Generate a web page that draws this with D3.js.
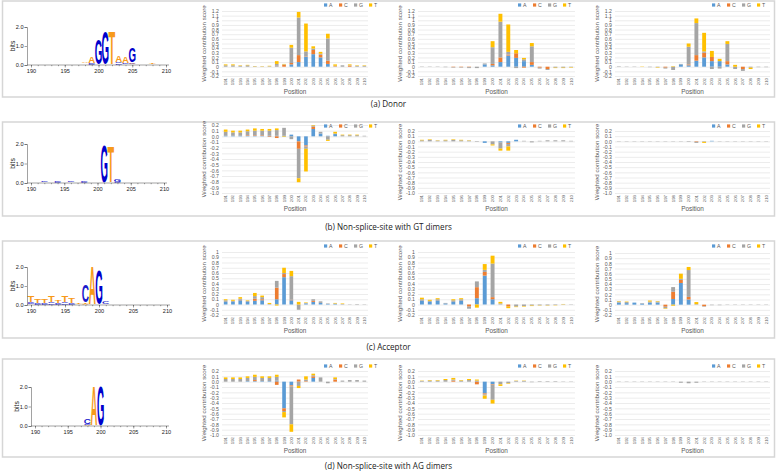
<!DOCTYPE html>
<html>
<head>
<meta charset="utf-8">
<script src="https://cdn.jsdelivr.net/npm/d3@7"></script>
<style>
body { margin: 0; background: #fff; }
svg { display: block; }
.caption { font-family: "Open Sans", sans-serif; font-size: 8.1px; fill: #222; }
.xl text { font-family: "Liberation Sans", Arial, sans-serif; fill: #595959; }
.logo text { font-family: "Liberation Sans", Arial, sans-serif; fill: #222; }
</style>
</head>
<body>
<div id="chart"></div>
<script>
var bases = ["A", "C", "G", "T"];
var barColors = {A: "#5b9bd5", C: "#ed7d31", G: "#a5a5a5", T: "#ffc000"};
var logoColors = {A: "#f79a1b", C: "#1a1acc", G: "#0000cc", T: "#f79a1b"};

var positions = [191,192,193,194,195,196,197,198,199,200,201,202,203,204,205,206,207,208,209,210];
var logoPositions = [190,191,192,193,194,195,196,197,198,199,200,201,202,203,204,205,206,207,208,209,210];
var logoTicks = [190, 195, 200, 205, 210];
var bitTicks = [0, 1, 2];

var captions = ["(a) Donor", "(b) Non-splice-site with GT dimers", "(c) Acceptor", "(d) Non-splice-site with AG dimers"];

var ticksDonor = ["1.2","1.1","1","0.9","0.8","0.7","0.6","0.5","0.4","0.3","0.2","0.1","0","-0.1","-0.2"];
var ticksGT = ["0.2","0.1","0.0","-0.1","-0.2","-0.3","-0.4","-0.5","-0.6","-0.7","-0.8","-0.9","-1.0"];
var ticksAcc = ["1","0.9","0.8","0.7","0.6","0.5","0.4","0.3","0.2","0.1","0","-0.1","-0.2"];
var ticksAG = ["0.2","0.1","0.0","-0.1","-0.2","-0.3","-0.4","-0.5","-0.6","-0.7","-0.8","-0.9","-1.0"];

// weighted contribution score per position 191..210, as [A, C, G, T]
var donorModel1 = [[0,0,0.03,0.02],[0,0,0.03,0.02],[0,0,0.02,0.01],[0,0,0.03,0.01],[0,0,0.01,0.005],
  [0,0,0.005,0.005],[0,0,0.01,0.01],[0.01,0.01,0.04,0.06],[0,0.04,0.01,0.01],[0.05,0.03,0.33,0.06],
  [0.10,0.15,0.81,0.12],[0.21,0.01,0.11,0.60],[0.27,0.09,0.03,0.05],[0.20,0.06,0.02,0.04],[0.06,0.07,0.48,0.10],
  [0,0.01,0.01,0.03],[0,0,0.03,0],[0,0.02,0.01,0.02],[0,0,0.02,0.01],[0,0,0.02,0.01]];
var donorModel2 = [[0,0,0.005,0],[0,0,0.005,0],[0,0,0.005,0],[0,0,-0.01,0],[0,-0.01,-0.01,0],
  [0,-0.01,-0.01,0],[0,-0.01,-0.02,0],[0,0,-0.03,0],[0.05,0,0.02,0],[0.03,0.03,0.36,0.13],
  [0.10,0.10,0.77,0.17],[0.24,0.02,0.06,0.59],[0.19,0.10,-0.03,0.07],[0.12,-0.02,0.04,0.03],[0.04,0.06,0.34,0.07],
  [0,-0.02,-0.02,0],[0,-0.05,-0.02,0],[0,0,-0.02,-0.01],[0,0,-0.02,-0.01],[0,0,-0.01,-0.01]];
var donorModel3 = [[0,0,0.01,0],[0,0,-0.005,0],[0,0,-0.005,0],[0,0,0,0.005],[0,0,-0.01,0],
  [0,0,-0.01,-0.01],[0,-0.02,-0.02,0],[0,0,-0.07,0.01],[0.05,0,0.01,0],[0.03,0.02,0.38,0.07],
  [0.13,0.12,0.69,0.10],[0.20,0.10,0.03,0.40],[0.12,0.09,-0.05,0.13],[0.12,0,-0.04,0.05],[0.05,0.07,0.37,0.06],
  [0,0,-0.05,0.04],[0,-0.05,-0.04,0],[0,0,-0.02,-0.03],[0,0,-0.01,0],[0,0,-0.01,0]];

var gtModel1 = [[0.01,0,0.07,0.04],[0.01,0,0.06,0.03],[0.01,0,0.06,0.03],[0.01,0.01,0.07,0.03],[0.01,0.01,0.08,0.04],
  [0.01,0.01,0.08,0.03],[0.01,-0.01,0.09,0.03],[0.01,-0.03,0.10,0.03],[0.01,0,0.14,-0.01],[0.03,0,-0.05,0],
  [-0.09,-0.13,-0.52,-0.07],[-0.16,-0.02,-0.04,-0.40],[0.13,0.04,0.02,0.01],[0.05,0,0.03,0],[0.01,0,-0.06,-0.02],
  [0.04,0,0.01,0.03],[0,0,0.02,0.01],[0,0,0.02,0.01],[0,0,0.02,0.01],[0,0,0.01,0]];
var gtModel2 = [[0,0,0.02,0.01],[0,0,0.03,0.01],[0,0,0.015,0.005],[0,0,0.02,0.01],[0,0,0.03,0.01],
  [0,0,0.02,0.01],[0,0,0.015,0.005],[0,0,-0.01,0],[-0.03,0,0,0],[0,0,-0.06,-0.02],
  [-0.02,0,-0.12,-0.04],[-0.03,-0.02,-0.05,-0.08],[0.03,0,0,0],[0,0,0.01,0],[0,0,-0.02,0],
  [0,0,0.01,0],[0,0,0.02,0],[0,0,0.02,0],[0,0,0.02,0],[0,0,0.01,0]];
var gtModel3 = [[0,0,0.003,0],[0,0,0.003,0],[0,0,0.003,0],[0,0,0.003,0],[0,0,0.003,0],
  [0,0,0.003,0],[0,0,0.003,0],[0,0,0.003,0],[0,0,-0.003,0],[0,0,-0.01,0],
  [0,-0.01,-0.02,0],[0,0,-0.01,-0.02],[0.01,0,0,0],[0,0,0.003,0],[0,0,0.003,0],
  [0,0,0.003,0],[0,0,0.003,0],[0,0,0.003,0],[0,0,0.003,0],[0,0,0.003,0]];

var accModel1 = [[0.05,0,0.03,0.02],[0.05,0,0.02,0.02],[0.08,0.01,0.02,0.03],[0.05,0,0.02,0.01],[0.07,0.04,0.05,0.06],
  [0.08,0.02,0.04,0.03],[0,0,0.01,0.02],[0.10,0.22,0.13,-0.02],[0.52,0.06,0.02,0.10],[0.08,0.01,0.45,0.10],
  [0,0,-0.10,0.05],[0.02,0,0.01,0.01],[0.05,0.02,0.03,0],[0.03,0,0.03,0],[0.01,0,0.01,0],
  [0.01,0,0.01,0.01],[0,0,0.01,0.01],[0,0,0.005,0],[0,0,-0.01,0],[0,0,-0.005,0]];
var accModel2 = [[0.07,0,0.03,0.03],[0.05,0,0.02,0.02],[0.07,0,0.03,0.02],[0.02,0,0.01,0],[0.05,0,0.03,0.02],
  [0.07,0,0.03,0.02],[0,-0.04,-0.04,0],[0.12,0.21,0.11,-0.06],[0.55,0.07,0.04,0.11],[0.10,0.04,0.64,0.15],
  [0,0,0.02,0.03],[0,-0.04,0,-0.03],[0,0,-0.04,-0.01],[0,0,-0.03,-0.01],[0,0,-0.02,-0.01],
  [0,0,-0.015,-0.005],[0,0,-0.015,-0.005],[0,0,-0.01,-0.005],[0,0,0.005,0.005],[0,0,0.005,0]];
var accModel3 = [[0.04,0,0.02,0.01],[0.03,0,0.02,0.01],[0.04,0,0,0],[0.02,0,0.01,0],[0.04,0,0.02,0.02],
  [0.04,0,0.02,0.01],[0,-0.04,-0.03,-0.01],[0.11,0.14,0.09,-0.02],[0.42,0.06,0.02,0.10],[0.10,0.05,0.52,0.06],
  [0,0,0.01,0.04],[0,-0.03,-0.01,0],[0,0,-0.01,0],[0,0,-0.01,0],[0,0,0.004,0],
  [0,0,0.004,0],[0,0,0.004,0],[0,0,0.004,0],[0,0,0.004,0],[0,0,0.004,0]];

var agModel1 = [[0,0,0.05,0.03],[0,0,0.05,0.03],[0,0,0.05,0.03],[0.01,0,0.06,0.03],[0.01,0.02,0.06,0.04],
  [0.01,0,0.06,0.03],[0.01,0,0.06,0.03],[0.02,-0.06,0.07,0.04],[-0.50,-0.05,-0.02,-0.10],[-0.07,-0.02,-0.71,-0.14],
  [0,0.04,-0.08,-0.04],[0,0.01,0.03,0.06],[0.07,0.03,0.02,0.03],[0,0,0.08,0],[0,0,-0.03,0],
  [0,0.04,0.01,0.03],[0,0,0.02,0],[0,0,0.03,0],[0,0,0.03,0],[0,0,0.02,0]];
var agModel2 = [[0,0,0.015,0.005],[0,0,0.02,0.01],[0,0,0.02,0.01],[0,0,0.03,0.02],[0,0.02,0.02,0.03],
  [0,0,0.02,0.01],[0,0,0.03,0.02],[0,-0.05,0.02,0.02],[-0.22,-0.02,-0.02,-0.06],[-0.05,-0.01,-0.28,-0.07],
  [0,0,-0.05,-0.03],[0,0,-0.03,-0.01],[0,0,0.015,0.005],[0,0,0.015,0.005],[0,0,-0.01,0],
  [0,0,0.01,0],[0,0,0.01,0],[0,0,0.01,0],[0,0,0.005,0],[0,0,0.005,0]];
var agModel3 = [[0,0,0.003,0],[0,0,0.003,0],[0,0,0.003,0],[0,0,0.003,0],[0,0,0.003,0],
  [0,0,0.003,0],[0,0,0.003,0],[0,0,0.003,0],[0,0,-0.02,0],[0,0,-0.03,0],
  [0,0,-0.02,0],[0,0,0.003,0],[0,0,0.003,0],[0,0,0.003,0],[0,0,0.003,0],
  [0,0,0.003,0],[0,0,0.003,0],[0,0,0.003,0],[0,0,0.003,0],[0,0,0.003,0]];

// sequence logo heights (bits) per position 190..210, as [A, C, G, T]
var donorLogo = [[0.01,0.01,0.01,0.01],[0.01,0.01,0.01,0.01],[0.01,0.01,0.01,0.01],[0.01,0.01,0.01,0.01],[0.01,0.01,0.01,0.01],
  [0.01,0.01,0.01,0.01],[0.01,0.01,0.01,0.01],[0.01,0.01,0.01,0.01],[0.05,0.03,0.03,0.03],[0.30,0.04,0.06,0.02],
  [0.02,0.01,1.30,0.01],[0.02,0.01,1.75,0.01],[0.02,0.01,0.02,1.68],[0.30,0.08,0.07,0.02],[0.30,0.03,0.08,0.02],
  [0.06,0.04,0.75,0.03],[0.02,0.01,0.01,0.02],[0.01,0.01,0.01,0.01],[0.02,0.01,0.01,0.06],[0.01,0.01,0.01,0.01],[0.01,0.01,0.01,0.01]];
var gtLogo = [[0.01,0.01,0.01,0.01],[0.01,0.01,0.02,0.01],[0.01,0.03,0.04,0.01],[0.01,0.01,0.01,0.01],[0.01,0.04,0.05,0.01],
  [0.01,0.01,0.01,0.01],[0.01,0.03,0.04,0.01],[0.01,0.01,0.01,0.01],[0.01,0.04,0.04,0.01],[0.01,0.01,0.01,0.01],
  [0.01,0.01,0.01,0.01],[0.01,0.01,1.86,0.01],[0.01,0.01,0.01,1.82],[0.01,0.05,0.10,0.01],[0.01,0.01,0.01,0.01],
  [0.01,0.01,0.01,0.01],[0.01,0.01,0.01,0.01],[0.01,0.03,0.03,0.01],[0.01,0.01,0.01,0.01],[0.01,0.01,0.01,0.01],[0.01,0.01,0.01,0.01]];
var accLogo = [[0.03,0.08,0.05,0.35],[0.02,0.06,0.04,0.22],[0.02,0.06,0.04,0.20],[0.02,0.08,0.06,0.35],[0.02,0.05,0.04,0.15],
  [0.02,0.08,0.06,0.35],[0.02,0.06,0.05,0.25],[0.01,0.03,0.01,0.05],[0.05,0.90,0.02,0.05],[1.95,0.01,0.01,0.01],
  [0.01,0.01,1.80,0.01],[0.02,0.15,0.03,0.01],[0.01,0.01,0.01,0.01],[0.01,0.01,0.01,0.01],[0.01,0.01,0.01,0.01],
  [0.01,0.01,0.01,0.01],[0.01,0.01,0.01,0.01],[0.01,0.02,0.02,0.01],[0.01,0.01,0.01,0.01],[0.01,0.03,0.02,0.01],[0.01,0.01,0.01,0.01]];
var agLogo = [[0.01,0.01,0.01,0.01],[0.01,0.01,0.01,0.01],[0.01,0.01,0.01,0.01],[0.01,0.01,0.01,0.01],[0.01,0.01,0.01,0.01],
  [0.01,0.03,0.02,0.01],[0.01,0.01,0.01,0.01],[0.01,0.02,0.02,0.01],[0.04,0.25,0.04,0.02],[2.00,0.01,0.01,0.01],
  [0.01,0.01,2.00,0.01],[0.01,0.03,0.03,0.01],[0.01,0.01,0.01,0.01],[0.01,0.01,0.01,0.01],[0.01,0.03,0.02,0.01],
  [0.01,0.01,0.01,0.01],[0.01,0.01,0.01,0.01],[0.01,0.01,0.01,0.01],[0.01,0.01,0.01,0.01],[0.01,0.02,0.03,0.01],[0.01,0.01,0.01,0.01]];

var rowsData = [
  {logo: donorLogo, models: [donorModel1, donorModel2, donorModel3], ticks: ticksDonor},
  {logo: gtLogo, models: [gtModel1, gtModel2, gtModel3], ticks: ticksGT},
  {logo: accLogo, models: [accModel1, accModel2, accModel3], ticks: ticksAcc},
  {logo: agLogo, models: [agModel1, agModel2, agModel3], ticks: ticksAG}
];

// layout
var width = 777, height = 473;
var rowLayouts = [
  {box: [1, 97], capY: 107, logo: {x190: 31, x210: 166, y0: 65, y2: 27}, plotTop: [11, 11, 11], plotBottom: 76, legendY: 5},
  {box: [122, 216], capY: 230, logo: {x190: 31, x210: 164, y0: 183, y2: 144}, plotTop: [125, 131, 131], plotBottom: 193, legendY: 126},
  {box: [241, 338], capY: 350, logo: {x190: 31, x210: 167, y0: 305, y2: 267}, plotTop: [252, 252, 253], plotBottom: 315, legendY: 246},
  {box: [359, 457], capY: 469, logo: {x190: 35, x210: 166, y0: 426, y2: 387}, plotTop: [371, 371, 371], plotBottom: 435, legendY: 366}
];
var chartPanels = [
  {P: 195, plot: [222, 368]},
  {P: 389, plot: [418, 575]},
  {P: 583, plot: [615, 770]}
];

var svg = d3.select("#chart").append("svg")
  .attr("width", width)
  .attr("height", height);

// glyph metrics for logo letters
var ctx = document.createElement("canvas").getContext("2d");
ctx.font = "bold 100px 'Liberation Sans'";
var glyph = {};
bases.forEach(function(b){
  var m = ctx.measureText(b);
  glyph[b] = {l: m.actualBoundingBoxLeft, r: m.actualBoundingBoxRight, a: m.actualBoundingBoxAscent, d: m.actualBoundingBoxDescent};
});

function drawLogo(g, L, data){
  var x = d3.scaleLinear().domain([190, 210]).range([L.x190, L.x210]);
  var y = d3.scaleLinear().domain([0, 2]).range([L.y0, L.y2]);
  var step = x(191) - x(190);
  var axisX = L.x190 - 4;

  // letters, smallest at the bottom of each stack
  logoPositions.forEach(function(p, i){
    var stack = bases.map(function(b, j){ return {b: b, h: data[i][j]}; })
      .sort(function(a, b){ return a.h - b.h; });
    var acc = 0;
    var lw = step * 0.98;
    stack.forEach(function(s){
      var yb = y(acc), yt = y(acc + s.h);
      acc += s.h;
      var h = yb - yt;
      if(h < 0.6) return;
      var gm = glyph[s.b];
      var gw = gm.l + gm.r, gh = gm.a + gm.d;
      g.append("text")
        .text(s.b)
        .attr("font-family", "Liberation Sans, Arial, sans-serif")
        .attr("font-weight", "bold")
        .attr("font-size", 100)
        .attr("fill", logoColors[s.b])
        .attr("transform", "translate(" + (x(p) - lw/2) + "," + yb + ") scale(" + (lw/gw) + "," + (h/gh) + ") translate(" + gm.l + "," + (-gm.d) + ")");
    });
  });

  var gl = g.append("g").attr("class", "logo");
  var yAxis = d3.axisLeft(y).tickValues(bitTicks).tickFormat(d3.format(".1f")).tickSize(2.5).tickPadding(1);
  gl.append("g").attr("transform", "translate(" + axisX + ",0)").call(yAxis);
  var xAxis = d3.axisBottom(x).tickValues(logoTicks).tickFormat(d3.format("d")).tickSize(2.5).tickPadding(1.5).tickSizeOuter(0);
  var gx = gl.append("g").attr("transform", "translate(0," + L.y0 + ")").call(xAxis);
  gx.select(".domain").attr("d", "M" + axisX + ",0H" + (L.x210 + 3));
  var gm = gl.append("g").attr("transform", "translate(0," + L.y0 + ")")
    .call(d3.axisBottom(x).tickValues(logoPositions).tickFormat("").tickSize(1.2).tickSizeOuter(0));
  gm.select(".domain").remove();
  gm.selectAll(".tick text").remove();
  gl.selectAll(".tick text").attr("font-size", 5.6).attr("fill", "#222");
  gl.selectAll("line, .domain").attr("stroke", "#444").attr("stroke-width", 0.5);

  gl.append("text")
    .attr("transform", "translate(" + (axisX - 12) + "," + ((L.y0 + L.y2) / 2) + ") rotate(-90)")
    .attr("text-anchor", "middle")
    .attr("font-size", 6.8)
    .text("bits");
}

function drawChart(g, panel, top, bottom, legendY, values, ticks){
  var x = d3.scaleBand().domain(positions).range(panel.plot).paddingInner(0.5).paddingOuter(0.25);
  var tv = ticks.map(Number);
  var y = d3.scaleLinear().domain([d3.min(tv), d3.max(tv)]).range([bottom, top]);
  var pw = panel.plot[1] - panel.plot[0];

  var gc = g.append("g").attr("class", "xl");

  var yAxis = d3.axisLeft(y)
    .tickValues(tv)
    .tickFormat(function(d, i){ return ticks[i]; })
    .tickSize(-pw)
    .tickPadding(3);
  var gy = gc.append("g").attr("transform", "translate(" + panel.plot[0] + ",0)").call(yAxis);
  gy.select(".domain").remove();
  gy.selectAll("line").attr("stroke", "#d9d9d9").attr("stroke-width", 0.5);
  gy.selectAll("text").attr("font-size", 5.2).attr("fill", "#595959");

  // stacked bars: positives up from 0, negatives down from 0
  positions.forEach(function(p, i){
    var pos = 0, neg = 0;
    bases.forEach(function(b, j){
      var v = values[i][j];
      if(v === 0) return;
      var y0, y1;
      if(v > 0){ y0 = pos; y1 = pos + v; pos = y1; }
      else { y1 = neg; y0 = neg + v; neg = y0; }
      gc.append("rect")
        .attr("x", x(p))
        .attr("width", x.bandwidth())
        .attr("y", y(y1))
        .attr("height", Math.max(0.3, y(y0) - y(y1)))
        .attr("fill", barColors[b]);
    });
  });

  var xAxis = d3.axisBottom(x).tickSize(0).tickPadding(0);
  var gx = gc.append("g").attr("transform", "translate(0," + bottom + ")").call(xAxis);
  gx.select(".domain").remove();
  gx.selectAll("text")
    .attr("font-size", 4.3)
    .attr("fill", "#595959")
    .attr("text-anchor", "end")
    .attr("dy", "0.35em")
    .attr("transform", "translate(0,2) rotate(-90)")
    .attr("y", 0)
    .attr("x", 0);

  gc.append("text")
    .attr("x", (panel.plot[0] + panel.plot[1]) / 2)
    .attr("y", bottom + 18)
    .attr("text-anchor", "middle")
    .attr("font-size", 6.4)
    .text("Position");

  gc.append("text")
    .attr("transform", "translate(" + (panel.plot[0] - 16) + "," + ((top + bottom) / 2) + ") rotate(-90)")
    .attr("text-anchor", "middle")
    .attr("font-size", 6.2)
    .text("Weighted contribution score");

  var legend = gc.selectAll(".legend")
    .data(bases)
    .enter().append("g")
    .attr("class", "legend")
    .attr("transform", function(d, i){ return "translate(" + (panel.P + 129 + i * 15) + "," + legendY + ")"; });
  legend.append("rect").attr("x", 0).attr("y", -1.6).attr("width", 3.2).attr("height", 3.2)
    .attr("fill", function(d){ return barColors[d]; });
  legend.append("text").attr("x", 5).attr("y", 1.9).attr("font-size", 5.2).text(function(d){ return d; });
}

rowLayouts.forEach(function(R, r){
  var g = svg.append("g");
  g.append("rect")
    .attr("x", 2.5).attr("y", R.box[0])
    .attr("width", width - 5).attr("height", R.box[1] - R.box[0])
    .attr("fill", "none").attr("stroke", "#d6d6d6").attr("stroke-width", 1.5);

  drawLogo(g, R.logo, rowsData[r].logo);
  chartPanels.forEach(function(panel, k){
    drawChart(g, panel, R.plotTop[k], R.plotBottom, R.legendY, rowsData[r].models[k], rowsData[r].ticks);
  });

  svg.append("text")
    .attr("class", "caption")
    .attr("x", width / 2)
    .attr("y", R.capY)
    .attr("text-anchor", "middle")
    .text(captions[r]);
});
</script>
</body>
</html>
